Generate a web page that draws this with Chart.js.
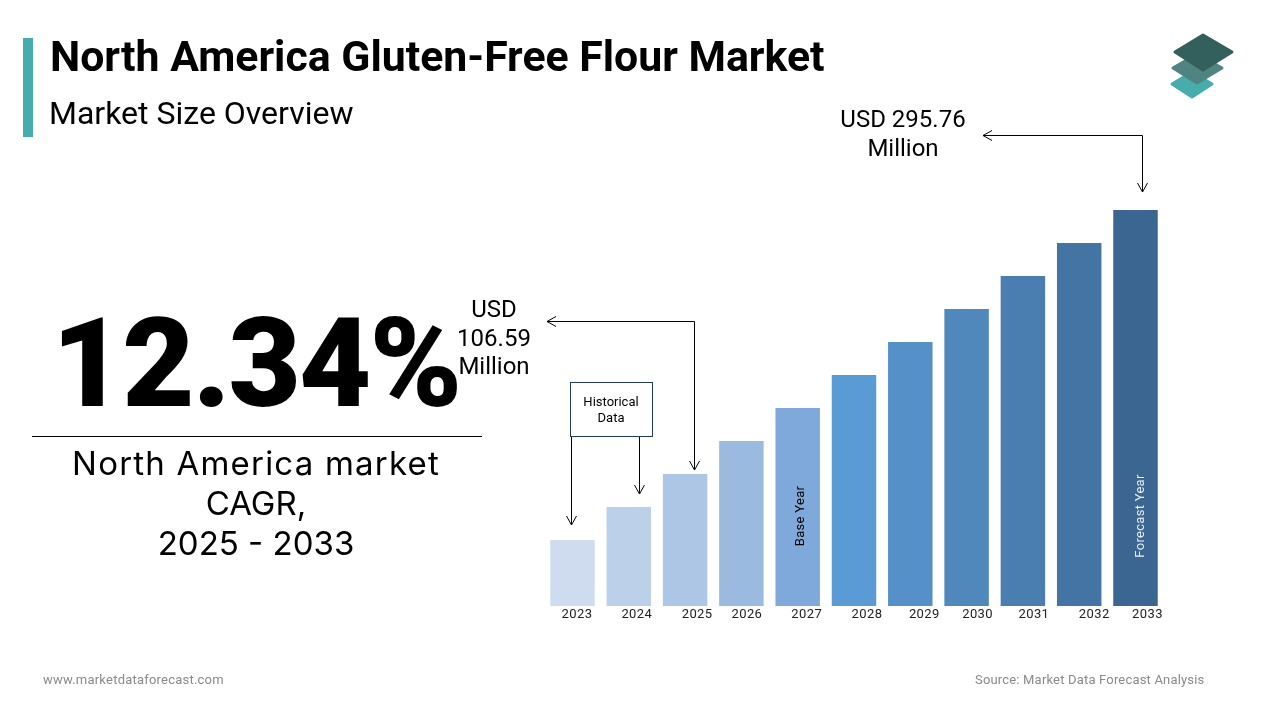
<!DOCTYPE html>
<html>
<head>
<meta charset="utf-8">
<title>North America Gluten-Free Flour Market</title>
<script src="https://cdn.jsdelivr.net/npm/chart.js@4"></script>
<style>
    html, body { margin: 0; padding: 0; background: #fff; }
    body { position: relative; width: 1280px; height: 720px; overflow: hidden; font-family: Roboto, sans-serif; color: #000; }
    #marketChart { position: absolute; left: 0; top: 0; }
    .txt { position: absolute; white-space: nowrap; }
    .center { text-align: center; transform: translateX(-50%); }
    #accent { position: absolute; left: 23px; top: 38px; width: 10px; height: 99px; background: #46acac; }
    #title { left: 50px; top: 32px; font-size: 42.8px; line-height: 48px; font-weight: 700; }
    #subtitle { left: 49px; top: 94px; font-size: 32px; line-height: 38px; }
    #cagr { left: 256px; top: 290px; font-family: Roboto, sans-serif; font-size: 125px; line-height: 148px; font-weight: 900; letter-spacing: -2px; }
    #divider { position: absolute; left: 32px; top: 436px; width: 450px; height: 1px; background: #000; }
    #cagrLabel { left: 256px; top: 443px; font-family: Inter, sans-serif; font-size: 33px; line-height: 40px; }
    #cagrLabel .wide { letter-spacing: 1.2px; }
    #footerLeft { left: 43px; top: 672px; font-size: 13px; line-height: 15px; color: #8a8a8a; letter-spacing: 0.22px; }
    #footerRight { left: 975px; top: 672px; font-size: 13px; line-height: 15px; color: #8a8a8a; letter-spacing: 0.18px; }
    #logo { position: absolute; left: 0; top: 0; }
</style>
</head>
<body>
<canvas id="marketChart" width="1280" height="720" style="width:1280px;height:720px"></canvas>
<div id="accent"></div>
<div class="txt" id="title">North America Gluten-Free Flour Market</div>
<div class="txt" id="subtitle">Market Size Overview</div>
<div class="txt center" id="cagr">12.34%</div>
<div id="divider"></div>
<div class="txt center" id="cagrLabel"><span class="wide">North America market</span><br>CAGR,<br>2025 - 2033</div>
<div class="txt" id="footerLeft">www.marketdataforecast.com</div>
<div class="txt" id="footerRight">Source: Market Data Forecast Analysis</div>
<svg id="logo" width="1280" height="110">
    <g stroke-linejoin="round" stroke-width="3">
        <polygon points="1192,72 1212,84 1192,97 1172,84" fill="#46acac" stroke="#46acac"/>
        <polygon points="1197,54 1222,68 1197,83 1173,68" fill="#4f8482" stroke="#4f8482"/>
        <polygon points="1203,35 1232,52 1203,70 1175,52" fill="#335f5c" stroke="#335f5c"/>
    </g>
</svg>
<script>
// Market size in USD million. Only 2033 matches a printed label, the rest
const years = ['2023', '2024', '2025', '2026', '2027', '2028', '2029', '2030', '2031', '2032', '2033'];
const marketSize = [49.3, 73.9, 98.6, 123.2, 147.9, 172.5, 197.2, 221.8, 246.5, 271.1, 295.76];
const axisMax = 295.76;

const barColors = ['#cfdcef', '#bdd0ea', '#aec6e5', '#9abadf', '#7fa9da', '#5b9bd5',
    '#5690c9', '#5088bc', '#4a7eb0', '#4374a3', '#3a6691'];

// The year labels sit a little off centre in the original, differently for each bar
const labelShift = [4.5, 8, 12, 5.5, 9, 13, 14, 11, 11, 15, 12];

const arrowHead = (ctx, x, y, dx, dy) => {
    const size = 5;
    const back = 9;
    ctx.beginPath();
    if (dy) {
        ctx.moveTo(x - size, y - back * dy);
        ctx.lineTo(x, y);
        ctx.lineTo(x + size, y - back * dy);
    } else {
        ctx.moveTo(x - back * dx, y - size);
        ctx.lineTo(x, y);
        ctx.lineTo(x - back * dx, y + size);
    }
    ctx.stroke();
};

const polyline = (ctx, pts) => {
    ctx.beginPath();
    pts.forEach(([x, y], i) => i ? ctx.lineTo(x, y) : ctx.moveTo(x, y));
    ctx.stroke();
};

const centerText = (ctx, lines, x, ys) => {
    ctx.textAlign = 'center';
    ctx.textBaseline = 'middle';
    lines.forEach((line, i) => ctx.fillText(line, x, ys[i]));
};

const annotations = {
    id: 'annotations',
    beforeDraw(chart) {
        // move the axis labels to where the original has them
        const xScale = chart.scales.x;
        xScale.getLabelItems().forEach((item, i) => {
            item.options.translation[0] = xScale.getPixelForValue(i) + labelShift[i];
        });
        chart.ctx.letterSpacing = '0.4px';
    },
    afterDraw(chart) {
        const ctx = chart.ctx;
        const bars = chart.getDatasetMeta(0).data;
        ctx.save();
        ctx.letterSpacing = '0px';
        ctx.strokeStyle = '#000';
        ctx.fillStyle = '#000';
        ctx.lineWidth = 1;

        // 2033 callout
        polyline(ctx, [[983, 135.5], [1142.5, 135.5], [1142.5, 192]]);
        arrowHead(ctx, 983, 135.5, -1, 0);
        arrowHead(ctx, 1142.5, 192, 0, 1);
        ctx.font = '24px Roboto';
        centerText(ctx, ['USD 295.76', 'Million'], 903, [121, 150]);

        // 2025 callout
        polyline(ctx, [[547, 321.5], [694.5, 321.5], [694.5, 470]]);
        arrowHead(ctx, 547, 321.5, -1, 0);
        arrowHead(ctx, 694.5, 470, 0, 1);
        centerText(ctx, ['USD', '106.59', 'Million'], 494, [311, 340, 368]);

        // historical data box
        polyline(ctx, [[571.5, 436], [571.5, 525]]);
        arrowHead(ctx, 571.5, 525, 0, 1);
        polyline(ctx, [[639.5, 436], [639.5, 494]]);
        arrowHead(ctx, 639.5, 494, 0, 1);
        ctx.strokeStyle = '#1f3864';
        ctx.strokeRect(570.5, 382.5, 82, 54);
        ctx.font = '13px Roboto';
        centerText(ctx, ['Historical', 'Data'], 611, [403, 419]);

        // vertical labels inside the bars
        const verticalLabel = (text, bar, shift, color) => {
            ctx.save();
            ctx.translate(bar.x + shift, 516);
            ctx.rotate(-Math.PI / 2);
            ctx.font = '13px Roboto';
            ctx.letterSpacing = '0.3px';
            ctx.fillStyle = color;
            ctx.textAlign = 'center';
            ctx.textBaseline = 'middle';
            ctx.fillText(text, 0, 0);
            ctx.restore();
        };
        verticalLabel('Base Year', bars[4], 3, '#000');
        verticalLabel('Forecast Year', bars[10], 5, '#e8eef6');
        ctx.restore();
    }
};

new Chart(document.getElementById('marketChart').getContext('2d'), {
    type: 'bar',
    data: {
        labels: years,
        datasets: [{
            data: marketSize,
            backgroundColor: barColors,
            borderWidth: 0,
            barPercentage: 0.79,
            categoryPercentage: 1
        }]
    },
    options: {
        responsive: false,
        animation: false,
        devicePixelRatio: 1,
        layout: { padding: { left: 544.35, right: 116.35, top: 210, bottom: 0 } },
        plugins: { legend: { display: false }, tooltip: { enabled: false } },
        scales: {
            x: {
                grid: { display: false, drawTicks: false },
                border: { display: false },
                ticks: {
                    color: '#222',
                    font: { family: 'Roboto', size: 13 },
                    padding: 1,
                    maxRotation: 0,
                    autoSkip: false
                },
                afterFit: (scale) => { scale.height = 114; }
            },
            y: {
                display: false,
                min: 0,
                max: axisMax
            }
        }
    },
    plugins: [annotations]
});
</script>
</body>
</html>
